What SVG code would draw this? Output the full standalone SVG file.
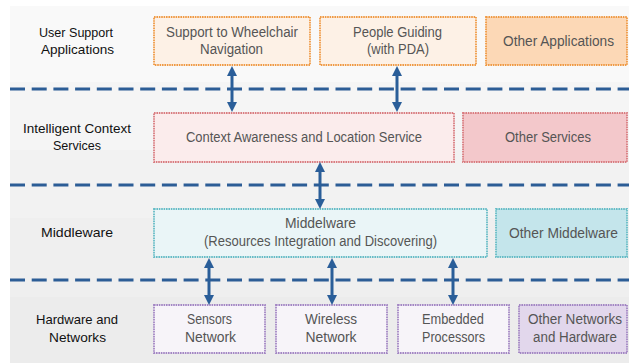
<svg xmlns="http://www.w3.org/2000/svg" width="629" height="363" viewBox="0 0 629 363">
  <style>
    .lbl { font-family: "Liberation Sans", Arial, sans-serif; font-size: 13.5px; fill: #111; text-anchor: middle; }
    .txt { font-family: "Liberation Sans", Arial, sans-serif; font-size: 14px; fill: #555; text-anchor: middle; }
    .sep { stroke: #2c5d96; stroke-width: 3; stroke-dasharray: 15 6.7; fill: none; }
    .link { stroke: #2a5e99; stroke-width: 3; fill: none; marker-start: url(#head); marker-end: url(#head); }
    .box { stroke-width: 1.8; stroke-dasharray: 1.6 0.8; }
    .app { stroke: #ef9a45; fill: #fdf1e6; }
    .app-o { stroke: #ef9a45; fill: #fcd8b6; }
    .svc { stroke: #d97c80; fill: #fbecec; }
    .svc-o { stroke: #d97c80; fill: #f3c8cb; }
    .mid { stroke: #66bcc6; fill: #eaf5f7; }
    .mid-o { stroke: #66bcc6; fill: #c4e5eb; }
    .hw { stroke: #a386c4; fill: #f7f4f9; }
    .hw-o { stroke: #a386c4; fill: #e2d7ec; }
  </style>
  <defs>
    <marker id="head" viewBox="0 0 10 10" refX="2" refY="5" markerWidth="10" markerHeight="11" markerUnits="userSpaceOnUse" orient="auto-start-reverse">
      <path d="M0,0 L10,5 L0,10 z" fill="#2a5e99"/>
    </marker>
  </defs>

  <!-- layer backgrounds -->
  <g id="background">
    <rect x="10" y="6" width="619" height="76" fill="#f9f9f9"/>
    <rect x="10" y="82" width="619" height="68" fill="#f5f5f5"/>
    <rect x="10" y="150" width="619" height="68" fill="#f2f2f2"/>
    <rect x="10" y="218" width="619" height="79" fill="#efefef"/>
    <rect x="10" y="297" width="619" height="66" fill="#ececec"/>
  </g>

  <!-- layer separators -->
  <g id="separators">
    <line class="sep" x1="10" y1="89" x2="629" y2="89"/>
    <line class="sep" x1="10" y1="185" x2="629" y2="185"/>
    <line class="sep" x1="10" y1="280" x2="629" y2="280"/>
  </g>

  <!-- layer titles -->
  <g id="layer-labels">
    <text class="lbl" x="76" y="37" textLength="74" lengthAdjust="spacingAndGlyphs">User Support</text>
    <text class="lbl" x="77.5" y="54" textLength="73" lengthAdjust="spacingAndGlyphs">Applications</text>
    <text class="lbl" x="77" y="133" textLength="108" lengthAdjust="spacingAndGlyphs">Intelligent Context</text>
    <text class="lbl" x="77" y="150" textLength="48" lengthAdjust="spacingAndGlyphs">Services</text>
    <text class="lbl" x="77" y="237" textLength="72" lengthAdjust="spacingAndGlyphs">Middleware</text>
    <text class="lbl" x="77" y="324" textLength="82" lengthAdjust="spacingAndGlyphs">Hardware and</text>
    <text class="lbl" x="77.5" y="342" textLength="57" lengthAdjust="spacingAndGlyphs">Networks</text>
  </g>

  <!-- user support applications -->
  <g id="wheelchair">
    <rect class="box app" x="154" y="17" width="156" height="48"/>
    <text class="txt" x="232" y="37" textLength="132" lengthAdjust="spacingAndGlyphs">Support to Wheelchair</text>
    <text class="txt" x="231.5" y="54" textLength="63" lengthAdjust="spacingAndGlyphs">Navigation</text>
  </g>
  <g id="guiding">
    <rect class="box app" x="320" y="17" width="156" height="48"/>
    <text class="txt" x="397.5" y="37" textLength="89" lengthAdjust="spacingAndGlyphs">People Guiding</text>
    <text class="txt" x="398" y="54" textLength="62" lengthAdjust="spacingAndGlyphs">(with PDA)</text>
  </g>
  <g id="other-apps">
    <rect class="box app-o" x="486" y="17" width="141" height="48"/>
    <text class="txt" x="558.5" y="46" textLength="111" lengthAdjust="spacingAndGlyphs">Other Applications</text>
  </g>

  <!-- intelligent context services -->
  <g id="context">
    <rect class="box svc" x="154" y="113" width="300" height="49"/>
    <text class="txt" x="304" y="142" textLength="236" lengthAdjust="spacingAndGlyphs">Context Awareness and Location Service</text>
  </g>
  <g id="other-services">
    <rect class="box svc-o" x="463" y="113" width="164" height="49"/>
    <text class="txt" x="548" y="142" textLength="86" lengthAdjust="spacingAndGlyphs">Other Services</text>
  </g>

  <!-- middleware -->
  <g id="middleware">
    <rect class="box mid" x="154" y="209" width="333" height="48"/>
    <text class="txt" x="320.5" y="228" textLength="71" lengthAdjust="spacingAndGlyphs">Middelware</text>
    <text class="txt" x="320.5" y="246" textLength="233" lengthAdjust="spacingAndGlyphs">(Resources Integration and Discovering)</text>
  </g>
  <g id="other-middleware">
    <rect class="box mid-o" x="496" y="209" width="131" height="48"/>
    <text class="txt" x="563.5" y="238" textLength="109" lengthAdjust="spacingAndGlyphs">Other Middelware</text>
  </g>

  <!-- hardware and networks -->
  <g id="sensors">
    <rect class="box hw" x="154" y="305" width="111" height="48"/>
    <text class="txt" x="209.5" y="324" textLength="45" lengthAdjust="spacingAndGlyphs">Sensors</text>
    <text class="txt" x="210.5" y="342" textLength="51" lengthAdjust="spacingAndGlyphs">Network</text>
  </g>
  <g id="wireless">
    <rect class="box hw" x="276" y="305" width="111" height="48"/>
    <text class="txt" x="331" y="324" textLength="52" lengthAdjust="spacingAndGlyphs">Wireless</text>
    <text class="txt" x="331" y="342" textLength="51" lengthAdjust="spacingAndGlyphs">Network</text>
  </g>
  <g id="embedded">
    <rect class="box hw" x="398" y="305" width="111" height="48"/>
    <text class="txt" x="453" y="324" textLength="62" lengthAdjust="spacingAndGlyphs">Embedded</text>
    <text class="txt" x="453.5" y="342" textLength="63" lengthAdjust="spacingAndGlyphs">Processors</text>
  </g>
  <g id="other-hw">
    <rect class="box hw-o" x="519" y="305" width="108" height="48"/>
    <text class="txt" x="575" y="324" textLength="94" lengthAdjust="spacingAndGlyphs">Other Networks</text>
    <text class="txt" x="575" y="342" textLength="84" lengthAdjust="spacingAndGlyphs">and Hardware</text>
  </g>

  <!-- connectors between layers -->
  <g id="connectors">
    <line class="link" x1="232" y1="74" x2="232" y2="104"/>
    <line class="link" x1="397" y1="74" x2="397" y2="104"/>
    <line class="link" x1="320" y1="170" x2="320" y2="201"/>
    <line class="link" x1="209" y1="266" x2="209" y2="297"/>
    <line class="link" x1="332" y1="266" x2="332" y2="297"/>
    <line class="link" x1="453" y1="266" x2="453" y2="297"/>
  </g>
</svg>
